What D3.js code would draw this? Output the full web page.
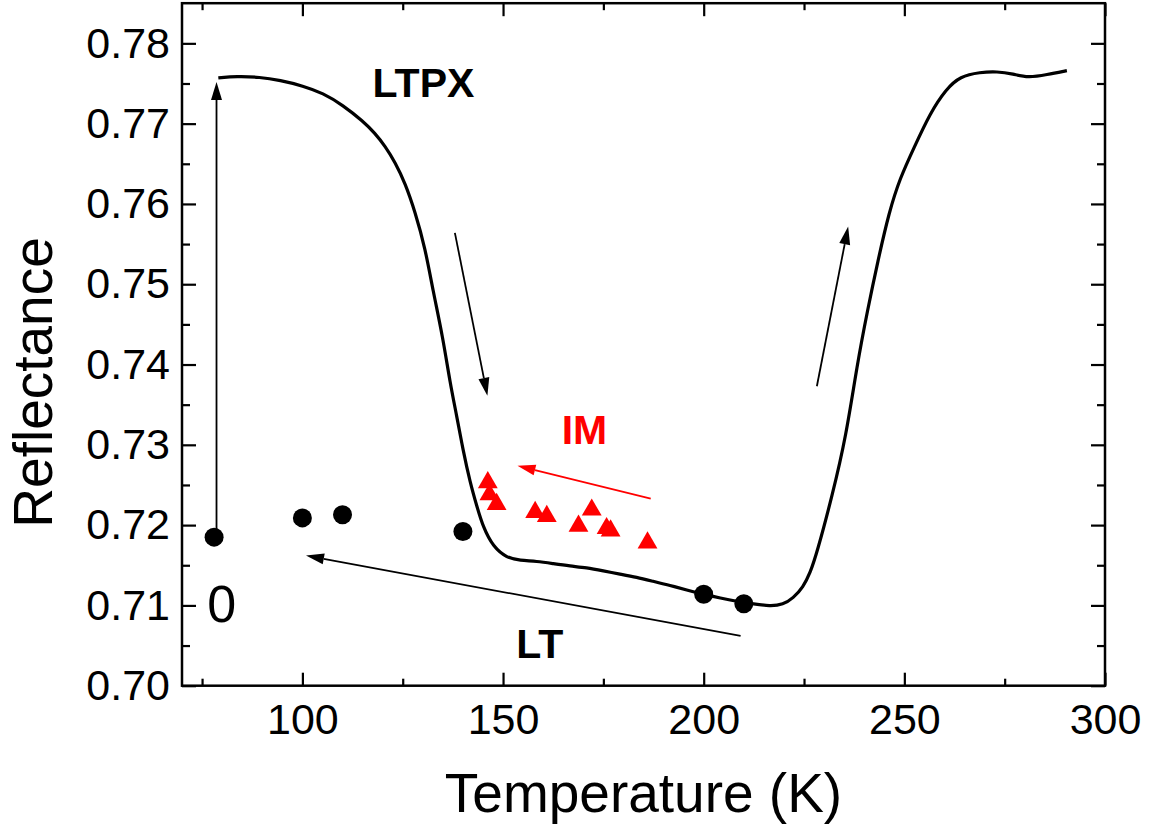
<!DOCTYPE html>
<html>
<head>
<meta charset="utf-8">
<script src="https://cdn.jsdelivr.net/npm/d3@7"></script>
<style>
  body { margin: 0; background: #fff; }
  svg { display: block; font-family: "Liberation Sans", Arial, sans-serif; }
</style>
</head>
<body>
<script>
// reflectance trace (K, reflectance)
const curveT = [79.05, 83.6, 89.4, 94.4, 100.2, 105.1, 110.1, 115.1, 118.1, 120.6, 123.1, 125.6, 128.1, 130.6,
  132.5, 135.0, 136.8, 138.5, 140.0, 141.8, 143.5, 145.0, 147.5, 151.0, 154.2, 158.4, 162.5, 166.7, 170.8, 175.0,
  179.1, 183.3, 187.4, 191.6, 195.8, 199.9, 204.2, 208.2, 212.4, 216.5, 219.8, 222.3, 224.8, 226.5, 228.2,
  232.0, 235.5, 238.2, 240.8, 243.4, 246.2, 248.9, 252.4, 256.4, 260.4, 263.9, 268.9, 273.1, 277.1, 280.8,
  285.5, 290.5];
const curveR = [0.7757, 0.7759, 0.7758, 0.7754, 0.7747, 0.7738, 0.7723, 0.7703, 0.7688, 0.7672, 0.7652, 0.7626,
  0.7590, 0.7545, 0.7493, 0.7434, 0.7377, 0.7335, 0.7294, 0.7253, 0.7223, 0.7198, 0.7173, 0.7159, 0.7156, 0.7155,
  0.7152, 0.7149, 0.7147, 0.7143, 0.7139, 0.7135, 0.7130, 0.7125, 0.7119, 0.7114, 0.7109, 0.7105, 0.7102,
  0.7099, 0.7101, 0.7109, 0.7123, 0.7140, 0.7165, 0.7236, 0.7311, 0.7399, 0.7467, 0.7529, 0.7590, 0.7632,
  0.7670, 0.7713, 0.7743, 0.7759, 0.7764, 0.7765, 0.7762, 0.7757, 0.7761, 0.7766];

// black dots (LT)
const dotT = [78, 100, 110, 140, 200, 210];
const dotR = [0.7185, 0.7209, 0.7213, 0.7192, 0.7114, 0.7102];

// red triangles (IM)
const triT = [146.2, 146.6, 148.4, 158.0, 160.9, 172.1, 168.8, 175.8, 176.8, 186.0];
const triR = [0.7253, 0.7238, 0.7226, 0.7216, 0.7211, 0.7219, 0.7199, 0.7196, 0.7193, 0.7178];

const xMajor = [100, 150, 200, 250, 300];
const xMinor = [75, 125, 175, 225, 275];
const yMajor = [0.70, 0.71, 0.72, 0.73, 0.74, 0.75, 0.76, 0.77, 0.78];
const yMinor = [0.705, 0.715, 0.725, 0.735, 0.745, 0.755, 0.765, 0.775];

// annotation arrows [T1, R1, T2, R2] -> head at the second point
const arrows = [
  { p: [78.6, 0.7192, 78.6, 0.7752], color: '#000' },
  { p: [138.0, 0.7564, 146.1, 0.7361], color: '#000' },
  { p: [228.2, 0.7373, 236.0, 0.7572], color: '#000' },
  { p: [209.2, 0.7062, 100.9, 0.7162], color: '#000' },
  { p: [186.8, 0.7233, 153.6, 0.7274], color: '#ff0000' }
];

const labels = [
  { t: 'LTPX', T: 117.5, R: 0.7733, color: '#000', bold: true, size: 41 },
  { t: 'LT', T: 153.3, R: 0.7034, color: '#000', bold: true, size: 41 },
  { t: 'IM', T: 164.6, R: 0.7301, color: '#ff0000', bold: true, size: 41 },
  { t: '0', T: 76.3, R: 0.7079, color: '#000', bold: false, size: 52 }
];

const width = 1149, height = 832;
const svg = d3.select('body').append('svg').attr('width', width).attr('height', height);

const x = d3.scaleLinear().domain([70, 300]).range([182, 1105]);
const y = d3.scaleLinear().domain([0.70, 0.785]).range([685.7, 3.2]);

const fontSize = 43;

// axes with inward ticks
function styleAxis(g) {
  g.select('.domain').remove();
  g.selectAll('line').attr('stroke', '#000').attr('stroke-width', 2.2);
  g.selectAll('text').attr('fill', '#000').style('font-size', fontSize + 'px').style('font-family', null);
}

svg.append('g').attr('transform', 'translate(0,685.7)')
  .call(d3.axisBottom(x).tickValues(xMajor).tickSize(-13).tickPadding(18).tickFormat(d3.format('d')))
  .call(styleAxis);
svg.append('g').attr('transform', 'translate(0,685.7)')
  .call(d3.axisBottom(x).tickValues(xMinor).tickSize(-7).tickFormat(''))
  .call(styleAxis);
svg.append('g').attr('transform', 'translate(0,3.2)')
  .call(d3.axisTop(x).tickValues(xMajor).tickSize(-13).tickFormat(''))
  .call(styleAxis);
svg.append('g').attr('transform', 'translate(0,3.2)')
  .call(d3.axisTop(x).tickValues(xMinor).tickSize(-7).tickFormat(''))
  .call(styleAxis);

svg.append('g').attr('transform', 'translate(182,0)')
  .call(d3.axisLeft(y).tickValues(yMajor).tickSize(-14).tickPadding(12).tickFormat(d3.format('.2f')))
  .call(styleAxis);
svg.append('g').attr('transform', 'translate(182,0)')
  .call(d3.axisLeft(y).tickValues(yMinor).tickSize(-8).tickFormat(''))
  .call(styleAxis);
svg.append('g').attr('transform', 'translate(1105,0)')
  .call(d3.axisRight(y).tickValues(yMajor).tickSize(-14).tickFormat(''))
  .call(styleAxis);
svg.append('g').attr('transform', 'translate(1105,0)')
  .call(d3.axisRight(y).tickValues(yMinor).tickSize(-8).tickFormat(''))
  .call(styleAxis);

// frame
svg.append('rect')
  .attr('x', x(70)).attr('y', y(0.785))
  .attr('width', x(300) - x(70)).attr('height', y(0.70) - y(0.785))
  .attr('fill', 'none').attr('stroke', '#000').attr('stroke-width', 2.5);

// axis titles
svg.append('text')
  .attr('x', (x(70) + x(300)) / 2).attr('y', 812)
  .attr('text-anchor', 'middle')
  .style('font-size', '55px')
  .text('Temperature (K)');

svg.append('text')
  .attr('transform', 'translate(52,' + ((y(0.70) + y(0.785)) / 2 + 38) + ') rotate(-90)')
  .attr('text-anchor', 'middle')
  .style('font-size', '55px')
  .text('Reflectance');

// trace
const curveData = curveT.map((t, i) => ({ t: t, r: curveR[i] }));
const line = d3.line().x(d => x(d.t)).y(d => y(d.r)).curve(d3.curveBasis);
svg.append('path')
  .datum(curveData)
  .attr('d', line)
  .attr('fill', 'none')
  .attr('stroke', '#000')
  .attr('stroke-width', 3.2)
  .attr('stroke-linejoin', 'round');

// arrows
function drawArrow(a) {
  let [t1, r1, t2, r2] = a.p;
  let x1 = x(t1), y1 = y(r1), x2 = x(t2), y2 = y(r2);
  let ang = Math.atan2(y2 - y1, x2 - x1);
  let len = 18, half = 5.5;
  let bx = x2 - len * Math.cos(ang), by = y2 - len * Math.sin(ang);
  svg.append('line')
    .attr('x1', x1).attr('y1', y1).attr('x2', bx).attr('y2', by)
    .attr('stroke', a.color).attr('stroke-width', 1.8);
  let pts = [
    [x2, y2],
    [bx + half * Math.sin(ang), by - half * Math.cos(ang)],
    [bx - half * Math.sin(ang), by + half * Math.cos(ang)]
  ];
  svg.append('path')
    .attr('d', 'M' + pts.map(p => p.join(',')).join('L') + 'Z')
    .attr('fill', a.color);
}
arrows.forEach(drawArrow);

// dots
svg.append('g').selectAll('circle')
  .data(dotT.map((t, i) => ({ t: t, r: dotR[i] })))
  .enter().append('circle')
  .attr('cx', d => x(d.t))
  .attr('cy', d => y(d.r))
  .attr('r', 9.5)
  .attr('fill', '#000');

// triangles
const tri = d3.symbol().type(d3.symbolTriangle).size(170);
svg.append('g').selectAll('path')
  .data(triT.map((t, i) => ({ t: t, r: triR[i] })))
  .enter().append('path')
  .attr('d', tri)
  .attr('transform', d => 'translate(' + x(d.t) + ',' + y(d.r) + ')')
  .attr('fill', '#ff0000');

// text labels
labels.forEach(l => {
  svg.append('text')
    .attr('x', x(l.T)).attr('y', y(l.R))
    .attr('fill', l.color)
    .style('font-size', l.size + 'px')
    .style('font-weight', l.bold ? 'bold' : 'normal')
    .text(l.t);
});
</script>
</body>
</html>
